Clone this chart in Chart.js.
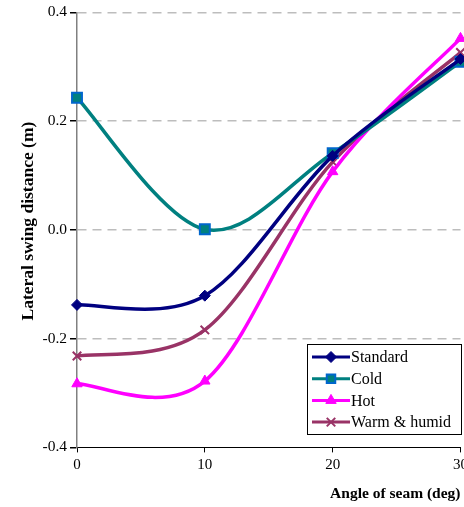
<!DOCTYPE html>
<html lang="en">
<head>
<meta charset="UTF-8">
<title>Lateral swing distance</title>
<script src="https://cdn.jsdelivr.net/npm/chart.js"></script>
<style>
  html, body { margin: 0; padding: 0; background: #fff; overflow: hidden; }
  #wrap { position: relative; width: 472px; height: 507px; }
</style>
</head>
<body>
<div id="wrap"><canvas id="swing"></canvas></div>
<script>
// Seam angles (deg) and lateral swing (m) per weather condition
const angles = [0, 10, 20, 30];
const standard = [-0.138, -0.121, 0.136, 0.314];
const cold = [0.243, 0.001, 0.141, 0.309];
const hot = [-0.283, -0.278, 0.107, 0.352];
const warmHumid = [-0.232, -0.184, 0.125, 0.326];
const yTicks = [-0.4, -0.2, 0.0, 0.2, 0.4];

const serif = '"Liberation Serif", "DejaVu Serif", serif';

function pts(vals) {
  return vals.map((v, i) => ({ x: angles[i], y: v }));
}

const series = [
  { label: 'Standard', data: standard, color: '#000080', style: 'rectRot', r: 5.5, fill: '#000080', edge: '#000080', bw: 1 },
  { label: 'Cold', data: cold, color: '#008080', style: 'rect', r: 7, fill: '#008080', edge: '#0066CC', bw: 2 },
  { label: 'Hot', data: hot, color: '#FF00FF', style: 'triangle', r: 6, fill: '#FF00FF', edge: '#FF00FF', bw: 1 },
  { label: 'Warm & humid', data: warmHumid, color: '#993366', style: 'crossRot', r: 6, fill: '#993366', edge: '#993366', bw: 2 }
];

// spreadsheet-style smoothing: Catmull-Rom handles (neighbour span / 6)
const smoothCurves = {
  id: 'smoothCurves',
  beforeDatasetDraw(chart, args) {
    const meta = args.meta;
    const p = meta.data;
    meta.dataset.updateControlPoints(chart.chartArea, meta.indexAxis);
    for (let i = 0; i < p.length; i++) {
      const prev = p[i - 1] || p[i];
      const next = p[i + 1] || p[i];
      const dx = (next.x - prev.x) / 6;
      const dy = (next.y - prev.y) / 6;
      p[i].cp1x = p[i].x - dx;
      p[i].cp1y = p[i].y - dy;
      p[i].cp2x = p[i].x + dx;
      p[i].cp2y = p[i].y + dy;
    }
  }
};

// boxed legend inside the lower right of the plot
const boxLegend = {
  id: 'boxLegend',
  afterDatasetsDraw(chart) {
    const ctx = chart.ctx;
    const x0 = 307, y0 = 344, w = 154, h = 90;
    ctx.save();
    ctx.fillStyle = '#fff';
    ctx.fillRect(x0, y0, w, h);
    ctx.strokeStyle = '#000';
    ctx.lineWidth = 1;
    ctx.strokeRect(x0 + 0.5, y0 + 0.5, w, h);
    chart.data.datasets.forEach((ds, i) => {
      const y = y0 + 13 + i * 21.7;
      ctx.strokeStyle = ds.borderColor;
      ctx.lineWidth = 3;
      ctx.beginPath();
      ctx.moveTo(x0 + 5, y);
      ctx.lineTo(x0 + 43, y);
      ctx.stroke();
      ctx.fillStyle = ds.pointBackgroundColor;
      ctx.strokeStyle = ds.pointBorderColor;
      ctx.lineWidth = ds.pointBorderWidth;
      const r = ds.pointStyle === 'rect' ? 6 : ds.pointRadius;
      Chart.helpers.drawPoint(ctx, { pointStyle: ds.pointStyle, radius: r, borderWidth: ds.pointBorderWidth, rotation: 0 }, x0 + 24, y);
      ctx.fillStyle = '#000';
      ctx.font = '16px ' + serif;
      ctx.textBaseline = 'middle';
      ctx.fillText(ds.label, x0 + 44, y + 1);
    });
    ctx.restore();
  }
};

new Chart(document.getElementById('swing'), {
  type: 'line',
  data: {
    datasets: series.map(s => ({
      label: s.label,
      data: pts(s.data),
      borderColor: s.color,
      borderWidth: 3.5,
      tension: 0.4,
      pointStyle: s.style,
      pointRadius: s.r,
      pointHoverRadius: s.r,
      pointBackgroundColor: s.fill,
      pointBorderColor: s.edge,
      pointBorderWidth: s.bw,
      clip: false
    }))
  },
  options: {
    responsive: true,
    maintainAspectRatio: false,
    animation: false,
    layout: { padding: { top: 6, right: 11, bottom: 4, left: 0 } },
    plugins: {
      legend: { display: false },
      tooltip: { enabled: false }
    },
    scales: {
      x: {
        type: 'linear',
        min: 0,
        max: 30,
        ticks: { stepSize: 10, color: '#000', font: { family: serif, size: 15 }, padding: 4 },
        grid: { drawOnChartArea: false, tickLength: 5, tickColor: '#000', tickBorderDash: [] },
        border: { color: '#000', width: 1 },
        title: {
          display: true,
          text: 'Angle of seam (deg)',
          align: 'end',
          color: '#000',
          font: { family: serif, size: 15.5, weight: 'bold' },
          padding: { top: 6, bottom: 0 }
        }
      },
      y: {
        min: -0.4,
        max: 0.4,
        afterBuildTicks(scale) {
          scale.ticks = yTicks.map(v => ({ value: v }));
        },
        afterFit(scale) {
          scale.width = 77;
        },
        ticks: {
          color: '#000',
          font: { family: serif, size: 15.5 },
          padding: 3,
          callback: v => v.toFixed(1)
        },
        grid: {
          color: c => (c.tick && c.tick.value <= -0.4 ? 'rgba(0,0,0,0)' : '#BDBDBD'),
          lineWidth: 1.5,
          tickLength: 7,
          tickColor: '#000',
          tickBorderDash: []
        },
        border: { color: '#808080', width: 1.5, dash: [9, 6] },
        title: {
          display: true,
          text: '\u00a0\u00a0\u00a0\u00a0Lateral swing distance (m)',
          color: '#000',
          font: { family: serif, size: 17.5, weight: 'bold' },
          padding: { top: 18, bottom: 0 }
        }
      }
    }
  },
  plugins: [smoothCurves, boxLegend]
});
</script>
</body>
</html>
